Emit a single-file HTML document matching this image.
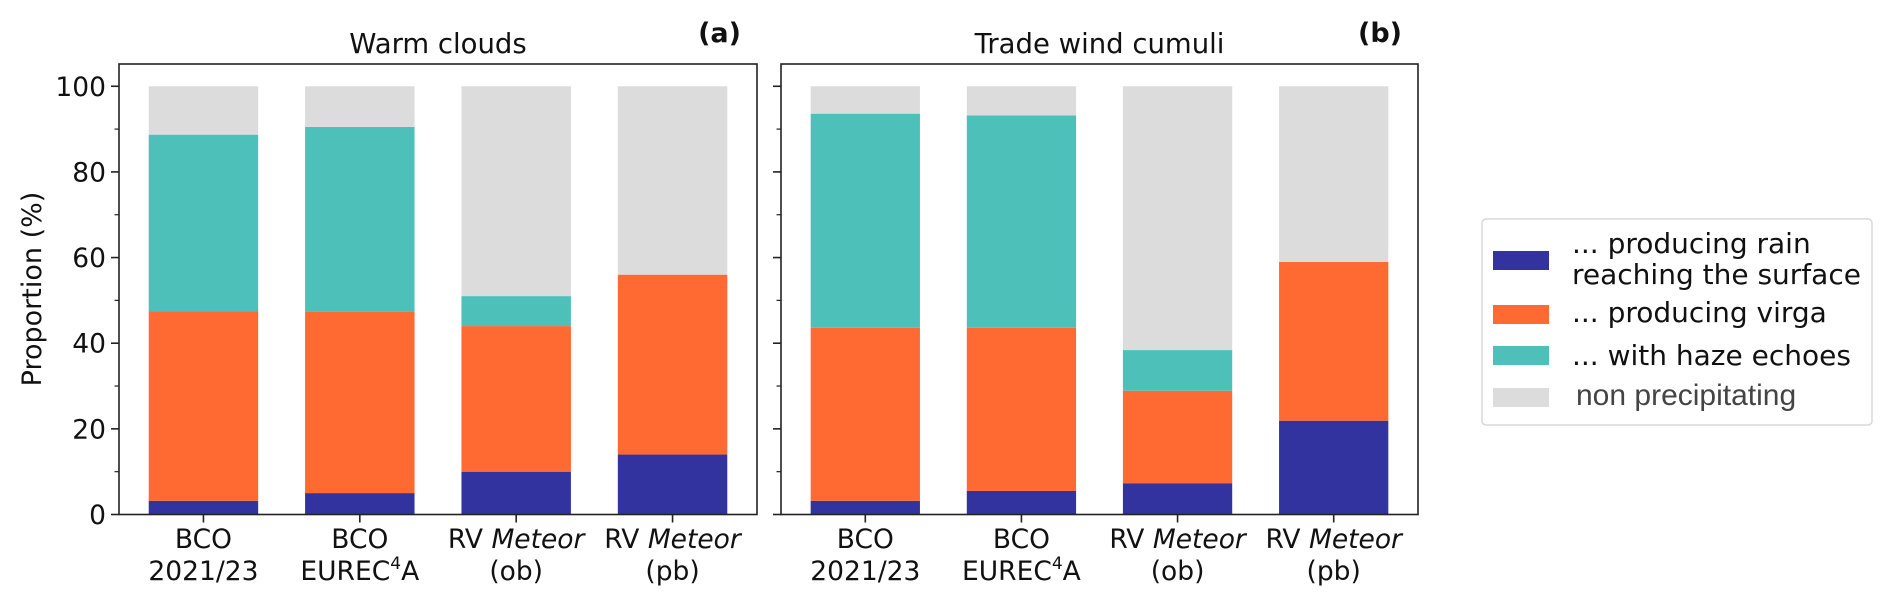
<!DOCTYPE html>
<html><head><meta charset="utf-8"><style>
html,body{margin:0;padding:0;background:#fff;}
svg{display:block;font-family:"DejaVu Sans","Liberation Sans",sans-serif;}
</style></head><body>
<svg id="chart" width="1892" height="605" viewBox="0 0 1892 605" xmlns="http://www.w3.org/2000/svg"></svg>
<script>
const categories = ["BCO|2021/23","BCO|EUREC4A","RV Meteor|(ob)","RV Meteor|(pb)"];
const seriesNames = ["... producing rain|reaching the surface","... producing virga","... with haze echoes","non precipitating"];
const rainA = [3.2, 5.0, 10.0, 14.0];
const virgaA = [44.3, 42.3, 34.0, 42.0];
const hazeA = [41.2, 43.2, 7.0, 0.0];
const rainB = [3.2, 5.5, 7.3, 21.9];
const virgaB = [40.4, 38.1, 21.6, 37.1];
const hazeB = [50.0, 49.6, 9.5, 0.0];
const yTicks = [0, 20, 40, 60, 80, 100];
const colors = ["#3333a0", "#ff6a33", "#4dc1b9", "#dcdcdc"];

const NS = "http://www.w3.org/2000/svg";
const svg = document.getElementById("chart");
function mk(tag, attrs, parent){
  const e = document.createElementNS(NS, tag);
  for (const k in attrs) e.setAttribute(k, attrs[k]);
  (parent||svg).appendChild(e);
  return e;
}
const Y0 = 514.5, TOP = 64, YMAX = 105.2;
function yScale(v){ return Y0 - v * (Y0 - TOP) / YMAX; }
function makeX(left, right){
  const lo = -0.54, hi = 3.54;
  return v => left + (v - lo) * (right - left) / (hi - lo);
}

function panel(left, right, title, tag, rain, virga, haze, showLabels, pname){
  const x = makeX(left, right);
  const g = mk("g", {});
  
  
  const bw = 0.7 * (x(1) - x(0));
  categories.forEach((c, i) => {
    const segs = [rain[i], virga[i], haze[i]];
    segs.push(100 - segs[0] - segs[1] - segs[2]);
    let base = 0;
    segs.forEach((s, j) => {
      if (s <= 0) return;
      const r = mk("rect", {x: x(i) - bw/2, y: yScale(base + s), width: bw, height: yScale(base) - yScale(base + s), fill: colors[j]}, g);
      
      
      base += s;
    });
    mk("line", {x1: x(i), x2: x(i), y1: Y0, y2: Y0 + 8, stroke: "#222", "stroke-width": 1.6}, g);
    const parts = c.split("|");
    const l1 = mk("text", {x: x(i), y: 548, "text-anchor": "middle", "font-size": 26.5, fill: "#111"}, g);
    
    
    if (parts[0] === "RV Meteor") {
      l1.appendChild(document.createTextNode("RV "));
      const it = mk("tspan", {"font-style": "italic"}, l1); it.textContent = "Meteor";
    } else l1.textContent = parts[0];
    const l2 = mk("text", {x: x(i), y: 580, "text-anchor": "middle", "font-size": 26.5, fill: "#111"}, g);
    
    
    if (parts[1] === "EUREC4A") {
      l2.appendChild(document.createTextNode("EUREC"));
      const sp = mk("tspan", {"font-size": 17, dy: -11}, l2); sp.textContent = "4";
      const a = mk("tspan", {dy: 11}, l2); a.textContent = "A";
    } else l2.textContent = parts[1];
  });
  for (let v = 0; v <= 100; v += 10) {
    const major = v % 20 === 0;
    mk("line", {x1: left - (major ? 8 : 4.5), x2: left, y1: yScale(v), y2: yScale(v), stroke: "#222", "stroke-width": major ? 1.6 : 1.2}, g);
  }
  if (showLabels) yTicks.forEach(v => {
    const t = mk("text", {x: left - 13, y: yScale(v) + 9.5, "text-anchor": "end", "font-size": 26.5, fill: "#111"}, g);
    
    
    t.textContent = v;
  });
  const fr = mk("rect", {x: left, y: TOP, width: right - left, height: Y0 - TOP, fill: "none", stroke: "#222", "stroke-width": 1.6}, g);
  
  
  const tt = mk("text", {x: (left + right) / 2, y: 53, "text-anchor": "middle", "font-size": 27.5, fill: "#111"}, g);
  
  
  tt.textContent = title;
  const tg = mk("text", {x: right - 16, y: 42, "text-anchor": "end", "font-size": 27, "font-weight": "bold", fill: "#111"}, g);
  
  
  tg.textContent = tag;
}
panel(119, 757, "Warm clouds", "(a)", rainA, virgaA, hazeA, true, "panel-warm-clouds");
panel(781, 1418, "Trade wind cumuli", "(b)", rainB, virgaB, hazeB, false, "panel-trade-wind-cumuli");

const yl = mk("text", {x: 0, y: 0, transform: "translate(41,289) rotate(-90)", "text-anchor": "middle", "font-size": 27, fill: "#111"});


yl.textContent = "Proportion (%)";

const lg = mk("g", {});


mk("rect", {x: 1482, y: 219, width: 390, height: 206, rx: 4, fill: "#fff", stroke: "#d8d8d8", "stroke-width": 1.5}, lg);
const patchY = [251, 305, 346, 388];
const textY = [[253, 284], [322], [365], [405]];
seriesNames.forEach((n, i) => {
  const p = mk("rect", {x: 1493, y: patchY[i], width: 56, height: 19, fill: colors[i]}, lg);
  
  
  n.split("|").forEach((line, k) => {
    const t = mk("text", {x: i === 3 ? 1576 : 1572, y: textY[i][k], "font-size": i === 3 ? 30 : 28, fill: i === 3 ? "#444" : "#111", "font-family": i === 3 ? "Liberation Sans, sans-serif" : "DejaVu Sans, sans-serif"}, lg);
    
    
    t.textContent = line;
  });
});
</script>
</body></html>
